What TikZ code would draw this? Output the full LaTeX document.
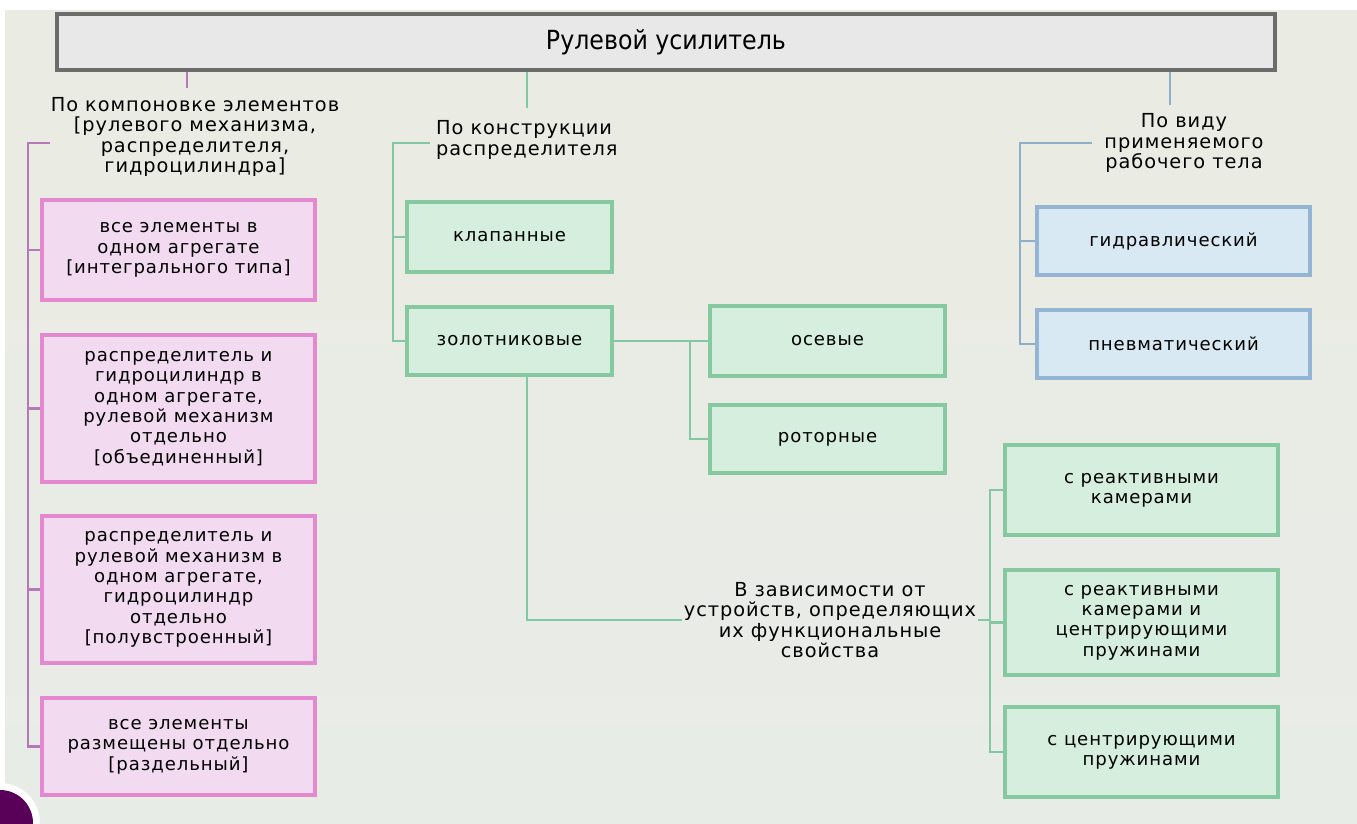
\documentclass[tikz,border=0pt]{standalone}
\usepackage{fontspec}
\usepackage{xcolor}
\usepackage{tikz}
\newfontfamily\diagfont[LetterSpace=5]{DejaVu Sans}
\newfontfamily\titlefont{DejaVu Sans Condensed}
\definecolor{bgcol}{HTML}{EAECE7}
\definecolor{pinkfill}{HTML}{F2DAF0}
\definecolor{pinkline}{HTML}{E488CF}
\definecolor{greenfill}{HTML}{D5EEDD}
\definecolor{greenline}{HTML}{86C9A0}
\definecolor{bluefill}{HTML}{D8E9F4}
\definecolor{blueline}{HTML}{93B4D3}
\definecolor{lpurple}{HTML}{B47AB8}
\definecolor{lgreen}{HTML}{82C8A2}
\definecolor{lblue}{HTML}{8EAFC9}
\tikzset{
  box/.style={line width=1.8pt,align=center,inner sep=2pt,
    font=\diagfont\fontsize{10.3}{11.6}\selectfont},
  pinkbox/.style={box,draw=pinkline,fill=pinkfill,minimum width=5.46cm},
  greenbox/.style={box,draw=greenline,fill=greenfill},
  bluebox/.style={box,draw=blueline,fill=bluefill,minimum width=5.46cm,minimum height=1.36cm},
  heading/.style={align=center,inner sep=1pt,font=\diagfont\fontsize{11}{11.6}\selectfont},
  conn/.style={line width=1.5pt}
}
\begin{document}
\begin{tikzpicture}[x=0.02cm,y=-0.02cm]
    % Background
    \fill[white] (0,0) rectangle (1357,823);
    \shade[top color=bgcol!70!yellow!6!bgcol,bottom color=bgcol!85!cyan!5!bgcol] (5,10) rectangle (1357,823);
    \useasboundingbox (0,0) rectangle (1357,823);

    % Top box
    \node[draw=gray!85!black,fill=gray!18,line width=2pt,minimum width=24.36cm,minimum height=1.12cm,
          font=\titlefont\fontsize{15}{17}\selectfont] (title) at (666,42) {Рулевой усилитель\hspace{0.6cm}};

    % Left column
    \node[heading] (hcomp) at (195,137) {По компоновке элементов\\{}[рулевого механизма,\\распределителя,\\гидроцилиндра]};
    \node[pinkbox,minimum height=2.0cm] (p1) at (178.5,250) {все элементы в\\одном агрегате\\{}[интегрального типа]};
    \node[pinkbox,minimum height=2.94cm] (p2) at (178.5,408.5) {распределитель и\\гидроцилиндр в\\одном агрегате,\\рулевой механизм\\отдельно\\{}[объединенный]};
    \node[pinkbox,minimum height=2.94cm] (p3) at (178.5,589.5) {распределитель и\\рулевой механизм в\\одном агрегате,\\гидроцилиндр\\отдельно\\{}[полувстроенный]};
    \node[pinkbox,minimum height=1.94cm] (p4) at (178.5,746.5) {все элементы\\размещены отдельно\\{}[раздельный]};
    \coordinate (lbus) at (28,143);
    \draw[conn,lpurple] (title.south -| 187,0) -- (187,88);
    \draw[conn,lpurple] (50,143) -- (lbus) |- (p4.west);
    \foreach \b in {p1,p2,p3}
        \draw[conn,lpurple] (lbus |- \b.west) -- (\b.west);

    % Middle column
    \node[heading,align=left,anchor=west] (hkon) at (434,140) {По конструкции\\распределителя};
    \node[greenbox,minimum width=4.1cm,minimum height=1.4cm] (klap) at (509.5,237) {клапанные};
    \node[greenbox,minimum width=4.1cm,minimum height=1.36cm] (zol) at (509.5,341) {золотниковые};
    \node[greenbox,minimum width=4.7cm,minimum height=1.4cm] (os) at (827.5,341) {осевые};
    \node[greenbox,minimum width=4.7cm,minimum height=1.36cm] (rot) at (827.5,439) {роторные};
    \coordinate (mbus) at (393,143);
    \draw[conn,lgreen] (title.south -| 527,0) -- (527,108);
    \draw[conn,lgreen] (430,143) -- (mbus) |- (zol.west);
    \draw[conn,lgreen] (mbus |- klap.west) -- (klap.west);
    \draw[conn,lgreen] (zol.east) -- (os.west);
    \draw[conn,lgreen] (690,341) |- (rot.west);

    % Functional properties
    \node[heading] (func) at (830,620) {В зависимости от\\устройств, определяющих\\их функциональные\\свойства};
    \node[greenbox,minimum width=5.46cm,minimum height=1.8cm] (g1) at (1141.5,490) {с реактивными\\камерами};
    \node[greenbox,minimum width=5.46cm,minimum height=2.1cm] (g2) at (1141.5,622.5) {с реактивными\\камерами и\\центрирующими\\пружинами};
    \node[greenbox,minimum width=5.46cm,minimum height=1.8cm] (g3) at (1141.5,752) {с центрирующими\\пружинами};
    \coordinate (fbus) at (990,622);
    \draw[conn,lgreen] (zol.south -| 527,0) |- (func.west);
    \draw[conn,lgreen] (func.east) -- (func.east -| fbus);
    \draw[conn,lgreen] (g1.west) -| (fbus) |- (g3.west);
    \draw[conn,lgreen] (fbus |- g2.west) -- (g2.west);

    % Right column
    \node[heading] (hvid) at (1184,143) {По виду\\применяемого\\рабочего тела};
    \node[bluebox] (b1) at (1173.5,241) {гидравлический};
    \node[bluebox] (b2) at (1173.5,344) {пневматический};
    \coordinate (rbus) at (1020,143);
    \draw[conn,lblue] (title.south -| 1170,0) -- (1170,105);
    \draw[conn,lblue] (1092,143) -- (rbus) |- (b2.west);
    \draw[conn,lblue] (rbus |- b1.west) -- (b1.west);

    % Corner mark
    \fill[white] (0,823) circle (40);
    \fill[violet!70!black] (0,823) circle (33);
\end{tikzpicture}
\end{document}
